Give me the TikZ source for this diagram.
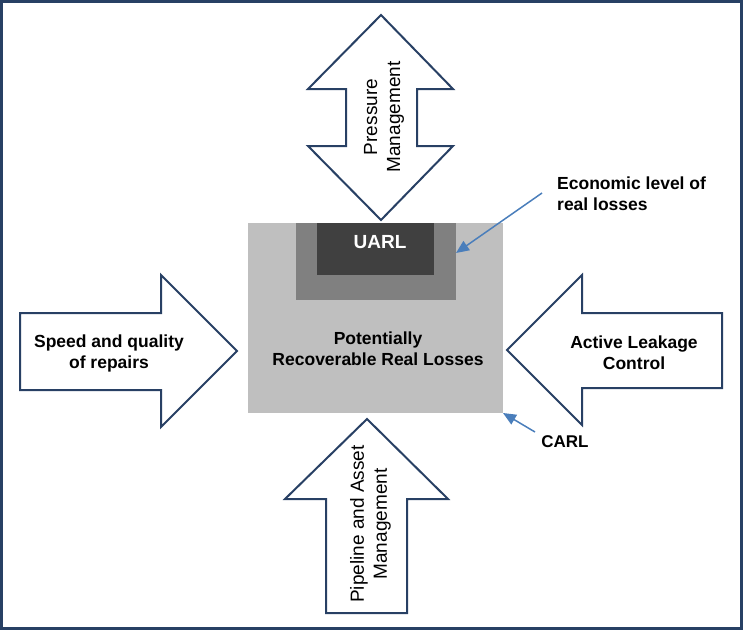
\documentclass[tikz,border=0pt]{standalone}
\usepackage{fontspec}
\setmainfont{Liberation Sans}
\usetikzlibrary{arrows.meta}
\definecolor{navy}{RGB}{40,64,100}
\definecolor{ptr}{RGB}{74,126,187}
\definecolor{lgray}{RGB}{191,191,191}
\definecolor{mgray}{RGB}{128,128,128}
\definecolor{dgray}{RGB}{64,64,64}
\begin{document}
\begin{tikzpicture}[x=1pt,y=-1pt,
  blockarrow/.style={draw=navy,line width=2pt,fill=white,line join=miter},
  pointer/.style={draw=ptr,line width=1.5pt,-{Triangle[length=13pt,width=11pt]}},
  box/.style={inner sep=0pt,outer sep=0pt,anchor=north west},
  lbl/.style={font=\fontsize{17.5}{21}\selectfont\bfseries,align=center,inner sep=0pt},
  vlbl/.style={font=\fontsize{19}{23}\selectfont,align=center,rotate=90,inner sep=0pt}]
\useasboundingbox (0,0) rectangle (743,630);
\draw[navy,line width=3pt] (1.5,1.5) rectangle (741.5,628.5);

% nested loss boxes
\node[box,fill=lgray,minimum width=255pt,minimum height=190pt] (carlbox) at (248,223) {};
\node[box,fill=mgray,minimum width=160pt,minimum height=77pt] (elbox) at (296,223) {};
\node[box,fill=dgray,minimum width=117pt,minimum height=52pt] (uarlbox) at (317,223) {};

% block arrows
\draw[blockarrow] (381,15) -- (453,89) -- (417,89) -- (417,146) -- (453,146) -- (381,220)
  -- (308,146) -- (346,146) -- (346,89) -- (308,89) -- cycle;
\draw[blockarrow] (20,313) -- (161,313) -- (161,275) -- (237,351) -- (161,427) -- (161,390)
  -- (20,390) -- cycle;
\draw[blockarrow] (507,350) -- (582,275) -- (582,313) -- (722,313) -- (722,388) -- (582,388)
  -- (582,425) -- cycle;
\draw[blockarrow] (367,419) -- (448,499) -- (407,499) -- (407,613) -- (326,613) -- (326,499)
  -- (285,499) -- cycle;

% texts
\node[vlbl] (pm) at (384,117) {Pressure\\Management};
\node[vlbl] (pam) at (370.5,524) {Pipeline and Asset\\Management};
\node[lbl] (sq) at (109,353) {Speed and quality\\of repairs};
\node[lbl] (alc) at (634,353) {Active Leakage\\Control};
\node[lbl] (prrl) at (378,349) {Potentially\\Recoverable Real Losses};
\node[lbl,text=white,font=\fontsize{19}{23}\selectfont\bfseries] (uarl) at (380,242) {UARL};
\node[lbl,font=\fontsize{17}{21}\selectfont\bfseries] (carl) at (565,442) {CARL};
\node[lbl,align=left,anchor=west] (econ) at (557,194) {Economic level of\\real losses};

% pointers
\coordinate (econtail) at (542,193);
\coordinate (econtip) at (456,253);
\coordinate (carltail) at (535,432);
\draw[pointer] (econtail) -- (econtip);
\draw[pointer] (carltail) -- (carlbox.south east);
\end{tikzpicture}
\end{document}
